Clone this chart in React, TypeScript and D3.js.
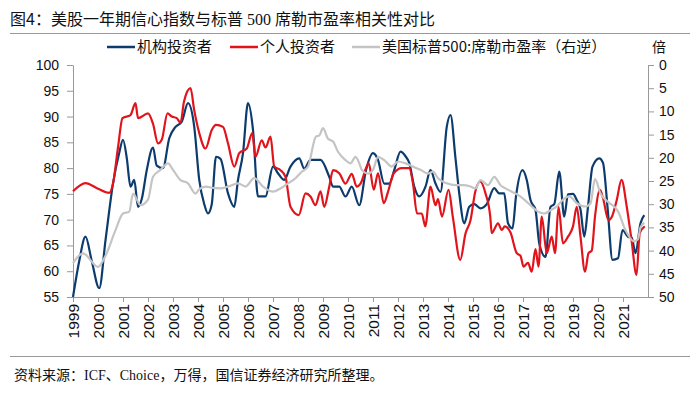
import { useEffect, useRef } from 'react';
import * as d3 from 'd3';

// 机构投资者 (left axis)
const instT = [1999.0, 1999.25, 1999.5, 1999.75, 2000.05, 2000.3, 2000.6, 2000.85, 2001.0, 2001.15, 2001.3, 2001.45, 2001.6, 2001.75, 2001.95, 2002.2, 2002.35, 2002.6, 2002.85, 2003.1, 2003.35, 2003.6, 2003.85, 2004.05, 2004.25, 2004.4, 2004.55, 2004.72, 2004.9, 2005.2, 2005.45, 2005.6, 2005.8, 2006.0, 2006.2, 2006.4, 2006.7, 2007.0, 2007.2, 2007.45, 2007.7, 2008.05, 2008.25, 2008.5, 2008.9, 2009.25, 2009.4, 2009.65, 2009.9, 2010.15, 2010.45, 2010.72, 2011.0, 2011.2, 2011.45, 2011.65, 2011.85, 2012.1, 2012.3, 2012.45, 2012.65, 2012.85, 2013.1, 2013.3, 2013.5, 2013.7, 2013.95, 2014.1, 2014.3, 2014.45, 2014.65, 2014.85, 2015.05, 2015.3, 2015.55, 2015.85, 2016.05, 2016.25, 2016.4, 2016.58, 2016.72, 2016.98, 2017.15, 2017.3, 2017.5, 2017.65, 2017.9, 2018.1, 2018.25, 2018.45, 2018.65, 2018.8, 2019.0, 2019.15, 2019.3, 2019.45, 2019.6, 2019.78, 2020.05, 2020.2, 2020.38, 2020.58, 2020.8, 2020.98, 2021.2, 2021.35, 2021.5, 2021.7, 2021.85];
const instV = [55, 62, 66.7, 62, 56.7, 66, 77, 83, 85.5, 82, 76.4, 77.7, 72.5, 74, 79.6, 84, 80.5, 80, 85.8, 88, 89, 92.6, 88, 77.7, 73, 71.2, 73, 82.2, 81.8, 75.1, 72.5, 77.7, 82.9, 92.6, 87.4, 74.5, 74.5, 80.3, 79, 77.7, 80.3, 81.9, 79.9, 81.6, 81.6, 78.3, 76.4, 76.4, 74.5, 76.4, 72.8, 79.6, 82.9, 81.6, 77, 77, 79.6, 83.2, 82.3, 81, 76.4, 74.5, 76.4, 79.6, 77, 75.4, 88, 90.3, 81.9, 75.1, 69.3, 72.5, 73, 72.2, 73, 76.1, 75.1, 75.1, 69.3, 68.3, 74.5, 79.6, 77.7, 73.8, 71.9, 65.4, 62.8, 72.5, 73, 79.3, 70.6, 74.9, 75, 73.8, 72, 66.7, 72.5, 80.3, 81.9, 81, 72.5, 62.2, 62.5, 68, 66.7, 66.5, 63.5, 69.3, 70.9];

// 个人投资者 (left axis)
const indivT = [1999.0, 1999.5, 2000.0, 2000.45, 2000.6, 2000.8, 2000.98, 2001.3, 2001.5, 2001.6, 2002.0, 2002.2, 2002.4, 2002.55, 2002.78, 2002.95, 2003.15, 2003.3, 2003.44, 2003.7, 2003.85, 2004.05, 2004.3, 2004.55, 2004.72, 2005.0, 2005.2, 2005.45, 2005.65, 2005.95, 2006.17, 2006.3, 2006.55, 2006.7, 2006.9, 2007.05, 2007.3, 2007.5, 2007.7, 2008.03, 2008.3, 2008.5, 2008.7, 2008.9, 2009.05, 2009.25, 2009.4, 2009.65, 2009.9, 2010.15, 2010.35, 2010.5, 2010.83, 2011.03, 2011.2, 2011.43, 2011.6, 2011.83, 2012.15, 2012.45, 2012.6, 2012.76, 2012.95, 2013.09, 2013.3, 2013.5, 2013.6, 2013.76, 2014.02, 2014.2, 2014.49, 2014.7, 2014.9, 2015.09, 2015.29, 2015.5, 2015.69, 2015.75, 2016.0, 2016.15, 2016.27, 2016.5, 2016.75, 2016.9, 2017.02, 2017.2, 2017.35, 2017.5, 2017.62, 2017.75, 2017.95, 2018.15, 2018.28, 2018.42, 2018.6, 2018.8, 2019.0, 2019.15, 2019.3, 2019.48, 2019.62, 2019.75, 2019.88, 2020.08, 2020.2, 2020.42, 2020.55, 2020.75, 2020.94, 2021.15, 2021.34, 2021.54, 2021.67, 2021.87];
const indivV = [75.5, 77.1, 76, 75.2, 77, 84, 89.7, 90.3, 92.6, 89.7, 90.6, 88.6, 84.8, 85.5, 90.6, 90, 89.7, 88.8, 92.9, 95.5, 91.2, 86.8, 83.8, 87.4, 88.4, 88, 84.8, 80.3, 82.9, 83.8, 86.8, 82.2, 85.4, 84, 86.1, 80.3, 79.6, 78.3, 72.5, 70.9, 75.1, 74.5, 72.8, 75.5, 72.5, 76.4, 79.6, 79, 77, 78.9, 76.4, 77, 80.9, 75.8, 79, 73.2, 75.4, 79, 80, 80, 77, 71.2, 71.2, 68.7, 76.4, 72.8, 74, 70.6, 75.8, 70.3, 62.2, 67.3, 69.9, 75.4, 77.4, 75.1, 70.6, 67.4, 69.3, 68, 68.7, 67.5, 63.5, 63, 60.9, 61.6, 59.9, 64.3, 60.9, 70.6, 63.5, 66.7, 63.5, 72.5, 65.4, 66.7, 68.7, 72.5, 66.7, 59.9, 63.5, 64, 70.6, 75.8, 74.2, 69.9, 70.5, 73.8, 77.7, 72.5, 66.1, 59.3, 67.4, 68.7];

// 美国标普500:席勒市盈率 (right axis, reversed)
const peT = [1999.0, 1999.4, 2000.0, 2000.3, 2000.7, 2001.0, 2001.25, 2001.4, 2001.7, 2002.0, 2002.2, 2002.5, 2002.8, 2003.0, 2003.3, 2003.6, 2003.9, 2004.05, 2004.3, 2004.6, 2004.9, 2005.2, 2005.6, 2005.9, 2006.25, 2006.6, 2007.0, 2007.3, 2007.6, 2007.9, 2008.15, 2008.4, 2008.72, 2008.85, 2009.0, 2009.2, 2009.4, 2009.6, 2009.9, 2010.1, 2010.3, 2010.45, 2010.55, 2010.8, 2011.0, 2011.2, 2011.45, 2011.75, 2012.0, 2012.3, 2012.6, 2012.9, 2013.2, 2013.4, 2013.6, 2013.95, 2014.3, 2014.6, 2014.9, 2015.1, 2015.3, 2015.6, 2015.85, 2016.1, 2016.3, 2016.55, 2016.8, 2017.05, 2017.35, 2017.6, 2017.85, 2018.1, 2018.35, 2018.6, 2018.85, 2019.15, 2019.5, 2019.7, 2019.88, 2020.1, 2020.4, 2020.8, 2021.1, 2021.45, 2021.6, 2021.7, 2021.85];
const peV = [42.7, 40.6, 43.5, 41.1, 35.6, 32, 31.6, 27.7, 30.2, 29, 24.1, 22.6, 21.2, 22.6, 24.8, 25.5, 27.7, 26.8, 26.2, 26.5, 26.6, 26.2, 25.5, 26.2, 24.4, 26.2, 27.3, 26.6, 25.5, 24.4, 23, 21.9, 15.4, 15.2, 13.6, 15.9, 16.5, 18.7, 20.5, 21.2, 19.8, 21.2, 22.6, 23.4, 22.6, 19.8, 20.5, 21.9, 20.8, 21.2, 21.9, 22.6, 23.4, 23, 24.4, 25.5, 25.9, 25.9, 26.2, 26.6, 24.8, 25.9, 24.1, 25.9, 26.6, 27.3, 28, 29, 30.5, 31.6, 32, 31.3, 30.5, 29, 28.3, 29.8, 30.5, 29.8, 24.6, 27.7, 29.5, 31.5, 35.6, 38, 37.5, 35, 34];

const years = d3.range(1999, 2022);
const leftTicks = d3.range(55, 101, 5);
const rightTicks = d3.range(0, 51, 5);

const seriesNames = ['机构投资者', '个人投资者', '美国标普500:席勒市盈率（右逆）'];
const colors = ['#0c3b6e', '#e1141c', '#c4c4c4'];

const W = 700;
const H = 394;
const CJK = '"Noto Sans CJK SC", "Liberation Sans", sans-serif';

export default function App() {
  const ref = useRef<SVGSVGElement>(null);

  useEffect(() => {
    if (!ref.current) return;
    const svg = d3.select(ref.current);
    svg.selectAll('*').remove();

    const x = d3.scaleLinear().domain([1999, 2022]).range([73, 648]);
    const yL = d3.scaleLinear().domain([55, 100]).range([297, 65]);
    const yR = d3.scaleLinear().domain([0, 50]).range([65, 297]);

    // title + rules
    const title = svg.append('text')
      .attr('x', 10).attr('y', 25)
      .style('font-family', CJK).style('font-size', '16px').attr('fill', '#111');
    title.append('tspan').text('图4：美股一年期信心指数与标普');
    title.append('tspan').style('font-family', '"Liberation Serif", serif').text(' 500 ');
    title.append('tspan').text('席勒市盈率相关性对比');

    svg.append('line').attr('x1', 10).attr('x2', 690).attr('y1', 33.5).attr('y2', 33.5)
      .attr('stroke', '#999').attr('stroke-width', 1.2);
    svg.append('line').attr('x1', 10).attr('x2', 690).attr('y1', 356.5).attr('y2', 356.5)
      .attr('stroke', '#999').attr('stroke-width', 1.2);

    svg.append('text')
      .attr('x', 14).attr('y', 380)
      .style('font-family', '"Liberation Serif", "Noto Sans CJK SC", serif')
      .style('font-size', '14px').attr('fill', '#111')
      .text('资料来源：ICF、Choice，万得，国信证券经济研究所整理。');

    // legend
    const legendX = [107, 230, 352];
    seriesNames.forEach((name, i) => {
      const g = svg.append('g').attr('transform', `translate(${legendX[i]},47)`);
      g.append('line').attr('x1', 0).attr('x2', 28).attr('y1', 0).attr('y2', 0)
        .attr('stroke', colors[i]).attr('stroke-width', 2.5);
      g.append('text').attr('x', 30).attr('y', 5)
        .style('font-family', CJK).style('font-size', '15px').attr('fill', '#111')
        .text(name);
    });
    svg.append('text').attr('x', 652).attr('y', 52)
      .style('font-family', CJK).style('font-size', '14px').attr('fill', '#111').text('倍');

    // axes
    const axisFont = '"Liberation Sans", Arial, sans-serif';
    const styleAxis = (g: any) => {
      g.select('.domain').attr('stroke', '#999');
      g.selectAll('.tick line').attr('stroke', '#999');
      g.selectAll('.tick text').style('font-family', axisFont).style('font-size', '14px').attr('fill', '#111');
    };

    svg.append('g').attr('transform', 'translate(73,0)')
      .call(d3.axisLeft(yL).tickValues(leftTicks).tickSize(6).tickSizeOuter(0).tickPadding(8))
      .call(styleAxis);

    svg.append('g').attr('transform', 'translate(648,0)')
      .call(d3.axisRight(yR).tickValues(rightTicks).tickSize(6).tickSizeOuter(0).tickPadding(5))
      .call(styleAxis);

    const xg = svg.append('g').attr('transform', 'translate(0,297)')
      .call(d3.axisBottom(x).tickValues(years).tickFormat(d3.format('d')).tickSize(5).tickSizeOuter(0))
      .call(styleAxis);
    xg.selectAll('.tick text')
      .attr('transform', 'rotate(-90)')
      .attr('text-anchor', 'end')
      .attr('x', -7).attr('y', 0).attr('dy', '0.35em')
      .style('font-size', '15.5px');

    // lines
    const lineL = d3.line<[number, number]>()
      .x(d => x(d[0])).y(d => yL(d[1])).curve(d3.curveMonotoneX);
    const lineR = d3.line<[number, number]>()
      .x(d => x(d[0])).y(d => yR(d[1])).curve(d3.curveMonotoneX);

    const inst = instT.map((t, i) => [t, instV[i]] as [number, number]);
    const indiv = indivT.map((t, i) => [t, indivV[i]] as [number, number]);
    const pe = peT.map((t, i) => [t, peV[i]] as [number, number]);

    svg.append('path').datum(inst).attr('d', lineL)
      .attr('fill', 'none').attr('stroke', colors[0]).attr('stroke-width', 2.2);
    svg.append('path').datum(indiv).attr('d', lineL)
      .attr('fill', 'none').attr('stroke', colors[1]).attr('stroke-width', 2.2);
    svg.append('path').datum(pe).attr('d', lineR)
      .attr('fill', 'none').attr('stroke', colors[2]).attr('stroke-width', 2.2);
  }, []);

  return (
    <div style={{ position: 'absolute', left: 0, top: 0, background: '#fff' }}>
      <svg ref={ref} width={W} height={H} style={{ display: 'block' }} />
    </div>
  );
}
